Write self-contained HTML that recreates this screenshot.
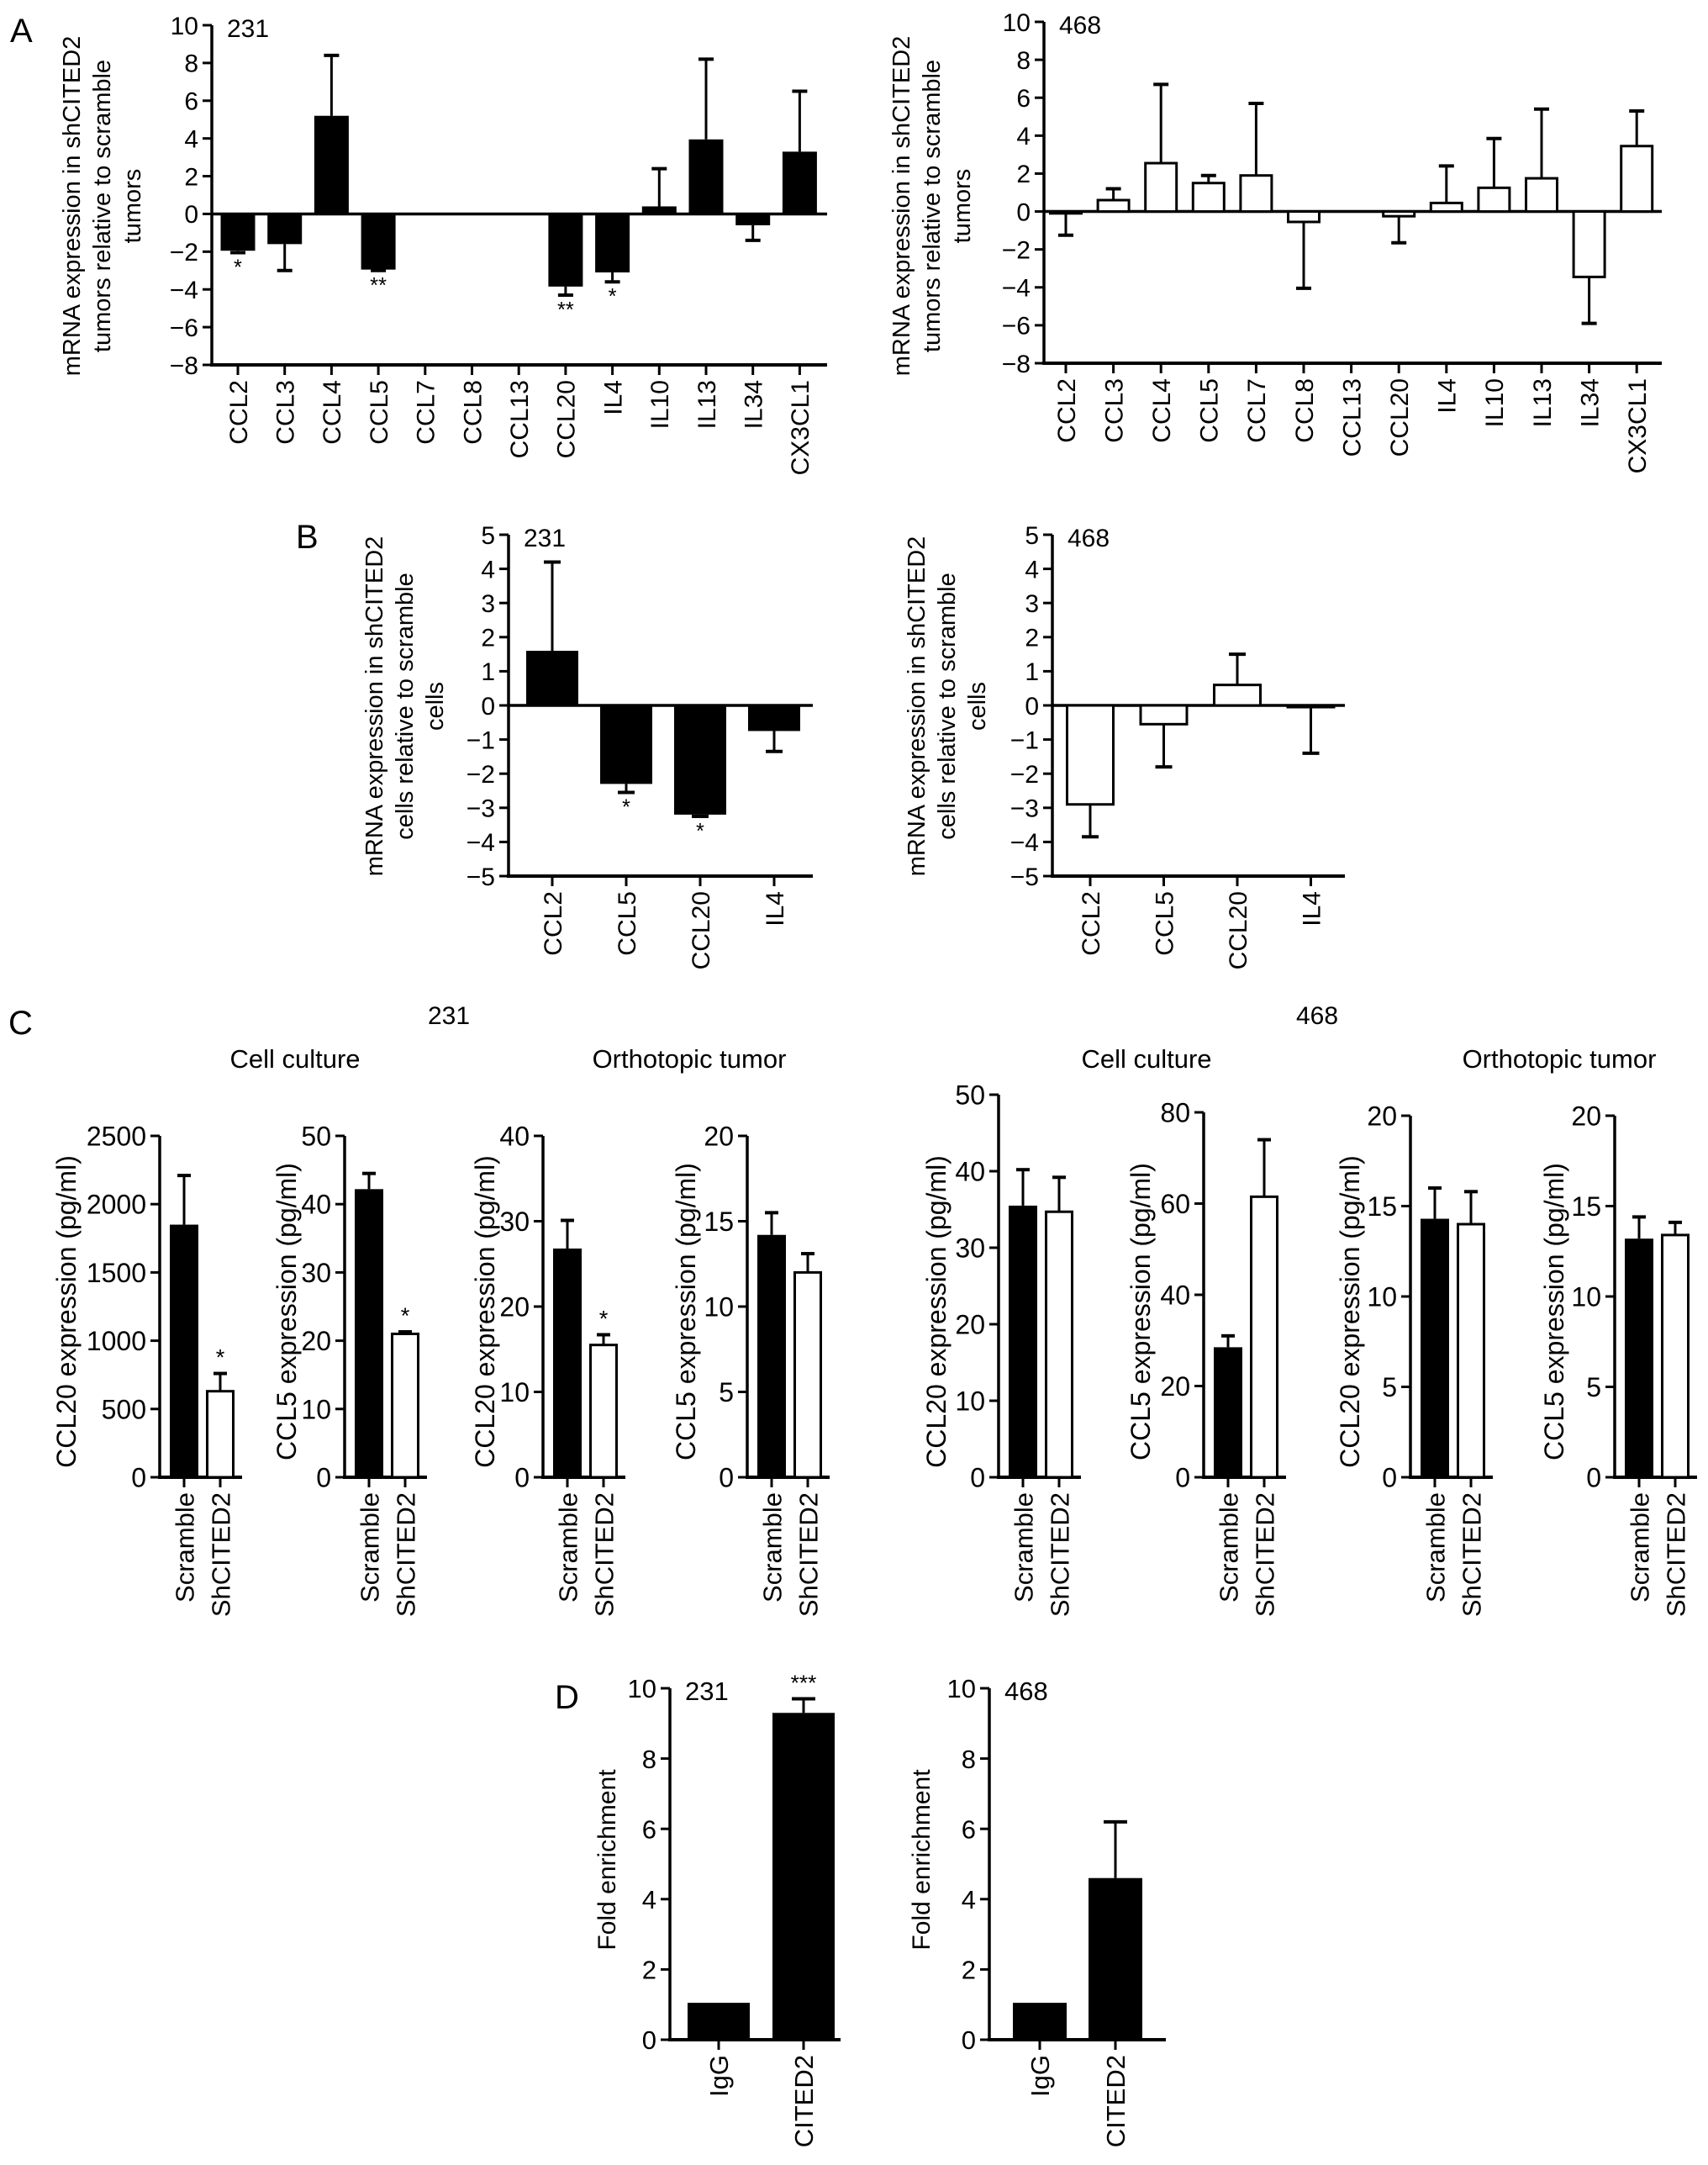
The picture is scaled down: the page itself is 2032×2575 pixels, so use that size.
<!DOCTYPE html>
<html><head><meta charset="utf-8"><style>
html,body{margin:0;padding:0;background:#fff;}
svg{display:block;font-family:"Liberation Sans",Arial,sans-serif;}
</style></head><body>
<svg id="fig" width="2032" height="2575" viewBox="0 0 2032 2575" xmlns="http://www.w3.org/2000/svg"></svg>
<script>
// ---------- data ----------
const catsA = ["CCL2","CCL3","CCL4","CCL5","CCL7","CCL8","CCL13","CCL20","IL4","IL10","IL13","IL34","CX3CL1"];
const valsA231 = [-1.95,-1.6,5.2,-2.95,0,0,0,-3.85,-3.1,0.4,3.95,-0.6,3.3];
const errA231 = [0.1,1.4,3.2,0.05,0,0,0,0.45,0.5,2.0,4.25,0.8,3.2];
const starsA231 = ["*","","","**","","","","**","*","","","",""];
const valsA468 = [-0.1,0.6,2.55,1.5,1.9,-0.55,0,-0.25,0.45,1.25,1.75,-3.45,3.45];
const errA468 = [1.15,0.6,4.15,0.4,3.8,3.5,0,1.4,1.95,2.6,3.65,2.45,1.85];
const starsA468 = ["","","","","","","","","","","","",""];
const ticksA = [10,8,6,4,2,0,-2,-4,-6,-8];
const tickLabelsA = ["10","8","6","4","2","0","\u22122","\u22124","\u22126","\u22128"];

const catsB = ["CCL2","CCL5","CCL20","IL4"];
const valsB231 = [1.6,-2.3,-3.2,-0.75];
const errB231 = [2.6,0.25,0.05,0.6];
const starsB231 = ["","*","*",""];
const valsB468 = [-2.9,-0.55,0.6,-0.05];
const errB468 = [0.95,1.25,0.9,1.35];
const starsB468 = ["","","",""];
const ticksB = [5,4,3,2,1,0,-1,-2,-3,-4,-5];
const tickLabelsB = ["5","4","3","2","1","0","\u22121","\u22122","\u22123","\u22124","\u22125"];

const catsC = ["Scramble","ShCITED2"];
const valsC1 = [1850,630]; const errC1 = [360,130]; const starsC1 = ["","*"];
const valsC2 = [42.2,21]; const errC2 = [2.3,0.3]; const starsC2 = ["","*"];
const valsC3 = [26.8,15.5]; const errC3 = [3.3,1.2]; const starsC3 = ["","*"];
const valsC4 = [14.2,12]; const errC4 = [1.3,1.1]; const starsC4 = ["",""];
const valsC5 = [35.5,34.7]; const errC5 = [4.7,4.5]; const starsC5 = ["",""];
const valsC6 = [28.5,61.5]; const errC6 = [2.5,12.5]; const starsC6 = ["",""];
const valsC7 = [14.3,14]; const errC7 = [1.7,1.8]; const starsC7 = ["",""];
const valsC8 = [13.2,13.4]; const errC8 = [1.2,0.7]; const starsC8 = ["",""];
const ticksC2500 = [0,500,1000,1500,2000,2500];
const ticksC50 = [0,10,20,30,40,50];
const ticksC40 = [0,10,20,30,40];
const ticksC20 = [0,5,10,15,20];
const ticksC80 = [0,20,40,60,80];

const catsD = ["IgG","CITED2"];
const valsD231 = [1.05,9.3]; const errD231 = [0,0.4]; const starsD231 = ["","***"];
const valsD468 = [1.05,4.6]; const errD468 = [0,1.6]; const starsD468 = ["",""];
const ticksD = [0,2,4,6,8,10];

// ---------- helpers ----------
const NS = "http://www.w3.org/2000/svg";
const svg = document.getElementById("fig");
function mk(tag, parent){ const e = document.createElementNS(NS, tag); parent.appendChild(e); return e; }
function line(p,x1,y1,x2,y2,w){ const l = mk("line",p); l.setAttribute("x1",x1); l.setAttribute("y1",y1); l.setAttribute("x2",x2); l.setAttribute("y2",y2); l.setAttribute("stroke","#000"); l.setAttribute("stroke-width",w); return l; }
function text(p,x,y,s,size,anchor,rot){ const t = mk("text",p); t.setAttribute("x",x); t.setAttribute("y",y); t.setAttribute("font-size",size); t.setAttribute("text-anchor",anchor||"start"); if(rot){ t.setAttribute("transform","rotate(-90 "+x+" "+y+")"); } t.textContent = s; return t; }

function chart(c){
  const g = mk("g", svg);
  
  
  const ymin = c.ymin, ymax = c.ymax;
  const Y = v => c.yBot - (v - ymin) / (ymax - ymin) * (c.yBot - c.yTop);
  const X = i => c.x0 + i * c.step;
  const fs = c.fs;
  // y-axis
  const ya = line(g, c.ax, c.yTop, c.ax, c.yBot, 3.5);
  
  
  c.ticks.forEach((v,i)=>{
    const yy = Y(v);
    const tk = line(g, c.ax-11, yy, c.ax, yy, 3);
    
    
    const lb = text(g, c.ax-16, yy+fs*0.36, c.tickLabels ? c.tickLabels[i] : String(v), fs, "end");
    
    
  });
  // bottom axis
  const xa = line(g, c.ax-2, c.yBot, c.xEnd, c.yBot, 4);
  
  
  if (ymin < 0) {
    const zl = line(g, c.ax, Y(0), c.xEnd, Y(0), 3.5);
    
    
  }
  c.cats.forEach((cat,i)=>{
    const cx = X(i);
    const v = c.vals[i], e = c.errs[i];
    const base = ymin < 0 ? Y(0) : c.yBot;
    if (v !== 0) {
      const top = Math.min(Y(v), base), h = Math.abs(Y(v) - base);
      const r = mk("rect", g);
      
      
      const fill = c.fills ? c.fills[i] : c.fill;
      const sw = fill === "#fff" ? 3 : 0;
      r.setAttribute("x", cx - c.bw/2 + sw/2); r.setAttribute("y", top);
      r.setAttribute("width", c.bw - sw); r.setAttribute("height", h);
      r.setAttribute("fill", fill); r.setAttribute("stroke", "#000"); r.setAttribute("stroke-width", sw);
    }
    let ey = Y(v);
    if (e > 0) {
      const dir = v < 0 ? -1 : 1;
      ey = Y(v + dir*e);
      const el = line(g, cx, Y(v), cx, ey, 3);
      
      
      const cp = line(g, cx - c.cap/2, ey, cx + c.cap/2, ey, 4);
      
      
    }
    const st = c.stars[i];
    if (st) {
      const sy = v < 0 ? Math.max(ey, Y(v)) + 26 : Math.min(ey, Y(v)) - 10;
      const s = text(g, cx, sy, st, fs*0.85, "middle");
      
      
    }
    const xt = line(g, cx, c.yBot, cx, c.yBot + 12, 3);
    
    
    const xl = text(g, cx + fs*0.36, c.yBot + 18, cat, c.catFs || fs, "end", true);
    
    
  });
  // y title
  const lines = c.ylab;
  lines.forEach((s,k)=>{
    const t = text(g, c.ylabX + k*c.ylabGap, c.ylabY, s, c.ylabFs, "middle", true);
    
    
  });
  if (c.tag) {
    const t = text(g, c.ax + 18, c.yTop + 14, c.tag, fs, "start");
    
    
  }
}

// ---------- panel A ----------
const ylabA = ["mRNA expression in shCITED2","tumors relative to scramble","tumors"];
chart({name:"chart-a-231", ax:252, yTop:30, yBot:434, ymin:-8, ymax:10, ticks:ticksA, tickLabels:tickLabelsA,
  x0:283, step:55.7, xEnd:984, bw:41, cap:18, cats:catsA, vals:valsA231, errs:errA231, stars:starsA231,
  fill:"#000", fs:30, catFs:30, ylab:ylabA, ylabX:95, ylabGap:36, ylabY:245, ylabFs:29, tag:"231"});
chart({name:"chart-a-468", ax:1242, yTop:26, yBot:432, ymin:-8, ymax:10, ticks:ticksA, tickLabels:tickLabelsA,
  x0:1268, step:56.6, xEnd:1977, bw:40, cap:18, cats:catsA, vals:valsA468, errs:errA468, stars:starsA468,
  fill:"#fff", fs:30, catFs:30, ylab:ylabA, ylabX:1082, ylabGap:36, ylabY:245, ylabFs:29, tag:"468"});

// ---------- panel B ----------
const ylabB = ["mRNA expression in shCITED2","cells relative to scramble","cells"];
chart({name:"chart-b-231", ax:605, yTop:636, yBot:1042, ymin:-5, ymax:5, ticks:ticksB, tickLabels:tickLabelsB,
  x0:657, step:88, xEnd:967, bw:62, cap:20, cats:catsB, vals:valsB231, errs:errB231, stars:starsB231,
  fill:"#000", fs:30, catFs:30, ylab:ylabB, ylabX:455, ylabGap:36, ylabY:840, ylabFs:29, tag:"231"});
chart({name:"chart-b-468", ax:1252, yTop:636, yBot:1042, ymin:-5, ymax:5, ticks:ticksB, tickLabels:tickLabelsB,
  x0:1297, step:87.5, xEnd:1600, bw:58, cap:20, cats:catsB, vals:valsB468, errs:errB468, stars:starsB468,
  fill:"#fff", fs:30, catFs:30, ylab:ylabB, ylabX:1100, ylabGap:36, ylabY:840, ylabFs:29, tag:"468"});

// ---------- panel C ----------
const fillsC = ["#000","#fff"];
function cChart(name, ax, yTop, ymax, ticks, vals, errs, stars, ylab, ylabX){
  chart({name:name, ax:ax, yTop:yTop, yBot:1757, ymin:0, ymax:ymax, ticks:ticks,
    x0:ax+29, step:43, xEnd:ax+98, bw:34, cap:16, cats:catsC, vals:vals, errs:errs, stars:stars,
    fills:fillsC, fs:32, catFs:31, ylab:[ylab], ylabX:ylabX, ylabGap:0, ylabY:1560, ylabFs:32});
}
cChart("chart-c-231-culture-ccl20", 190, 1351, 2500, ticksC2500, valsC1, errC1, starsC1, "CCL20 expression (pg/ml)", 90);
cChart("chart-c-231-culture-ccl5", 410, 1351, 50, ticksC50, valsC2, errC2, starsC2, "CCL5 expression (pg/ml)", 352);
cChart("chart-c-231-tumor-ccl20", 646, 1351, 40, ticksC40, valsC3, errC3, starsC3, "CCL20 expression (pg/ml)", 588);
cChart("chart-c-231-tumor-ccl5", 889, 1351, 20, ticksC20, valsC4, errC4, starsC4, "CCL5 expression (pg/ml)", 827);
cChart("chart-c-468-culture-ccl20", 1188, 1302, 50, ticksC50, valsC5, errC5, starsC5, "CCL20 expression (pg/ml)", 1125);
cChart("chart-c-468-culture-ccl5", 1432, 1323, 80, ticksC80, valsC6, errC6, starsC6, "CCL5 expression (pg/ml)", 1368);
cChart("chart-c-468-tumor-ccl20", 1678, 1327, 20, ticksC20, valsC7, errC7, starsC7, "CCL20 expression (pg/ml)", 1617);
cChart("chart-c-468-tumor-ccl5", 1921, 1327, 20, ticksC20, valsC8, errC8, starsC8, "CCL5 expression (pg/ml)", 1860);

// ---------- panel D ----------
chart({name:"chart-d-231", ax:797, yTop:2008, yBot:2426, ymin:0, ymax:10, ticks:ticksD,
  x0:855, step:101, xEnd:1000, bw:74, cap:28, cats:catsD, vals:valsD231, errs:errD231, stars:starsD231,
  fill:"#000", fs:31, catFs:31, ylab:["Fold enrichment"], ylabX:732, ylabGap:0, ylabY:2212, ylabFs:30, tag:"231"});
chart({name:"chart-d-468", ax:1177, yTop:2008, yBot:2426, ymin:0, ymax:10, ticks:ticksD,
  x0:1237, step:90, xEnd:1387, bw:64, cap:28, cats:catsD, vals:valsD468, errs:errD468, stars:starsD468,
  fill:"#000", fs:31, catFs:31, ylab:["Fold enrichment"], ylabX:1106, ylabGap:0, ylabY:2212, ylabFs:30, tag:"468"});

// ---------- panel letters and headings ----------
const heads = [
  ["A", 12, 50, 40, "start", "panel-label-a"],
  ["B", 352, 652, 40, "start", "panel-label-b"],
  ["C", 10, 1230, 40, "start", "panel-label-c"],
  ["D", 660, 2032, 40, "start", "panel-label-d"],
  ["231", 534, 1218, 30, "middle", "group-title-231"],
  ["468", 1567, 1218, 30, "middle", "group-title-468"],
  ["Cell culture", 351, 1270, 31, "middle", "subtitle-cell-culture-231"],
  ["Orthotopic tumor", 820, 1270, 31, "middle", "subtitle-tumor-231"],
  ["Cell culture", 1364, 1270, 31, "middle", "subtitle-cell-culture-468"],
  ["Orthotopic tumor", 1855, 1270, 31, "middle", "subtitle-tumor-468"]
];
heads.forEach(h=>{
  const t = text(svg, h[1], h[2], h[0], h[3], h[4]);
  
  
});
</script>
</body></html>
